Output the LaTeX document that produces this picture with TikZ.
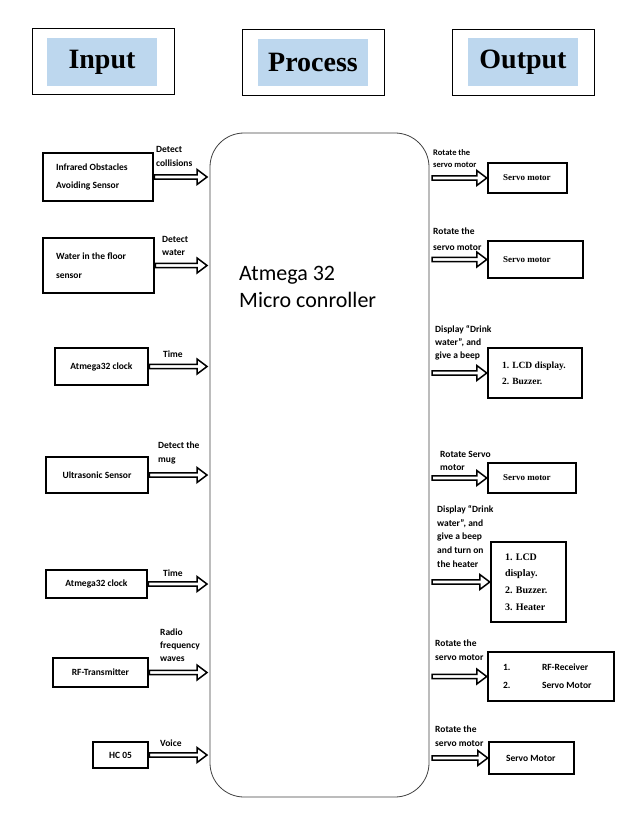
\documentclass[tikz,border=0pt]{standalone}
\usepackage{fontspec}
\setmainfont{Liberation Serif}
\newfontfamily\calibri{Carlito}
\usepackage{tikz}
\usetikzlibrary{calc, positioning}
\definecolor{titleblue}{RGB}{189,215,238}

\begin{document}
\begin{tikzpicture}[
                x=1pt, y=-1pt,
                header/.style={draw=black, line width=0.9pt, minimum width=142pt, minimum height=66pt},
                title/.style={fill=titleblue, minimum width=110pt, minimum height=48pt, font=\bfseries\fontsize{28}{30}\selectfont},
                inbox/.style={draw=black, line width=2.5pt, inner sep=0pt, font=\calibri\bfseries\fontsize{9.5}{18}\selectfont},
                outbox/.style={draw=black, line width=2.5pt, inner xsep=15pt, inner ysep=0pt, align=flush left, font=\bfseries\fontsize{9.5}{16}\selectfont},
                lbl/.style={anchor=west, align=flush left, inner sep=0pt, font=\calibri\bfseries\fontsize{9.5}{13.5}\selectfont},
                hollow/.style={line width=1.5pt, to path={let \p1=(\tikztostart), \p2=(\tikztotarget) in
                    (\x1,\y1+2.2pt) -- (\x2-10pt,\y1+2.2pt) -- (\x2-10pt,\y1+7.5pt) -- (\x2,\y1)
                    -- (\x2-10pt,\y1-7.5pt) -- (\x2-10pt,\y1-2.2pt) -- (\x1,\y1-2.2pt) -- cycle}}
            ]

            \useasboundingbox (0,0) rectangle (629,826);

            % Headers
            \node[header] (input-head) at (103,61) {};
            \node[title] (input-title) at (102,62) {Input};
            \node[header] (process-head) at (313,62) {};
            \node[title, minimum height=47pt] (process-title) at (313,62.5) {Process};
            \node[header] (output-head) at (523,62) {};
            \node[title] (output-title) at (523,62) {Output};

            % Micro controller
            \node[draw=black!75, line width=0.8pt, rounded corners=34pt, minimum width=219pt, minimum height=664pt] (mcu) at (319.5,465) {};
            \node[anchor=base west, align=flush left, inner sep=0pt, font=\calibri\fontsize{22}{27}\selectfont] (mcu-text) at (239,307) {Atmega 32\\Micro conroller};
            \coordinate (lin) at (207,0);
            \coordinate (rout) at (432,0);

            % Input nodes
            \node[inbox, minimum width=110pt, minimum height=48pt, text width=84pt, align=flush left] (ir) at (98,177) {Infrared Obstacles\\Avoiding Sensor};
            \node[inbox, minimum width=111pt, minimum height=55pt, text width=85pt, align=flush left, font=\calibri\bfseries\fontsize{9.5}{19}\selectfont] (water) at (98.5,265.5) {Water in the floor\\sensor};
            \node[inbox, minimum width=93pt, minimum height=37pt] (clock1) at (101.5,366.5) {Atmega32 clock};
            \node[inbox, minimum width=102pt, minimum height=36pt] (sonic) at (97,475) {Ultrasonic Sensor};
            \node[inbox, minimum width=101pt, minimum height=28pt] (clock2) at (96.5,584) {Atmega32 clock};
            \node[inbox, minimum width=95pt, minimum height=29pt] (rftx) at (100.5,672.5) {RF-Transmitter};
            \node[inbox, minimum width=55pt, minimum height=26pt] (hc) at (120.5,755) {HC 05};

            % Output nodes
            \node[outbox, text width=49pt, minimum height=30pt, font=\bfseries\fontsize{9}{16}\selectfont] (s1) at (527.5,178) {Servo motor};
            \node[outbox, text width=65pt, minimum height=37pt, font=\bfseries\fontsize{9}{16}\selectfont] (s2) at (535.5,259.5) {Servo motor};
            \node[outbox, inner xsep=14pt, text width=66pt, minimum height=50pt] (lcd) at (535,373) {1. LCD display.\\2. Buzzer.};
            \node[outbox, text width=58pt, minimum height=30pt, font=\bfseries\fontsize{9}{16}\selectfont] (s3) at (532,478) {Servo motor};
            \node[outbox, inner xsep=14pt, text width=47pt, minimum height=80pt, font=\bfseries\fontsize{10}{16.7}\selectfont] (lcd2) at (528.5,582) {1. LCD\\display.\\2. Buzzer.\\3. Heater};
            \node[outbox, text width=96pt, minimum height=49pt, font=\calibri\bfseries\fontsize{9.5}{18}\selectfont] (rfrx) at (551,676.5) {\makebox[39pt][l]{1.}RF-Receiver\\\makebox[39pt][l]{2.}Servo Motor};
            \node[outbox, inner xsep=17pt, text width=51pt, minimum height=32pt, font=\calibri\bfseries\fontsize{9.5}{16}\selectfont] (last) at (531.5,758) {Servo Motor};

            % Input labels
            \node[lbl, font=\calibri\bfseries\fontsize{9.5}{14}\selectfont] (ir-lbl) at (156,156) {Detect\\collisions};
            \node[lbl, font=\calibri\bfseries\fontsize{9.5}{13}\selectfont] (water-lbl) at (162,245.5) {Detect\\water};
            \node[lbl] (clock1-lbl) at (163,354) {Time};
            \node[lbl, font=\calibri\bfseries\fontsize{9.5}{14}\selectfont] (sonic-lbl) at (158,453) {Detect the\\mug};
            \node[lbl] (clock2-lbl) at (163,573) {Time};
            \node[lbl, font=\calibri\bfseries\fontsize{9.5}{13}\selectfont] (rftx-lbl) at (160,645) {Radio\\frequency\\waves};
            \node[lbl] (hc-lbl) at (160,743) {Voice};

            % Output labels
            \node[lbl, font=\calibri\bfseries\fontsize{8.5}{12}\selectfont] (s1-lbl) at (433,159) {Rotate the\\servo motor};
            \node[lbl, font=\calibri\bfseries\fontsize{9.5}{16}\selectfont] (s2-lbl) at (433,239) {Rotate the\\servo motor};
            \node[lbl, font=\calibri\bfseries\fontsize{9.5}{13}\selectfont] (lcd-lbl) at (435,343) {Display “Drink\\water”, and\\give a beep};
            \node[lbl, font=\calibri\bfseries\fontsize{9.5}{13}\selectfont] (s3-lbl) at (440,460.5) {Rotate Servo\\motor};
            \node[lbl, font=\calibri\bfseries\fontsize{9.5}{13.75}\selectfont] (lcd2-lbl) at (437,536.5) {Display “Drink\\water”, and\\give a beep\\and turn on\\the heater};
            \node[lbl, font=\calibri\bfseries\fontsize{9.5}{14}\selectfont] (rfrx-lbl) at (435,650) {Rotate the\\servo motor};
            \node[lbl, font=\calibri\bfseries\fontsize{9.5}{14}\selectfont] (last-lbl) at (435,736) {Rotate the\\servo motor};

            % Connections from inputs to micro controller
            \foreach \b in {ir,water,clock1,sonic,clock2,rftx,hc}
            \draw[hollow] (\b.east) to (\b.east -| lin);

            % Connections from micro controller to outputs
            \foreach \b in {s1,s2,lcd,s3,lcd2,rfrx,last}
            \draw[hollow] (\b.west -| rout) to (\b.west);

        \end{tikzpicture}
\end{document}
